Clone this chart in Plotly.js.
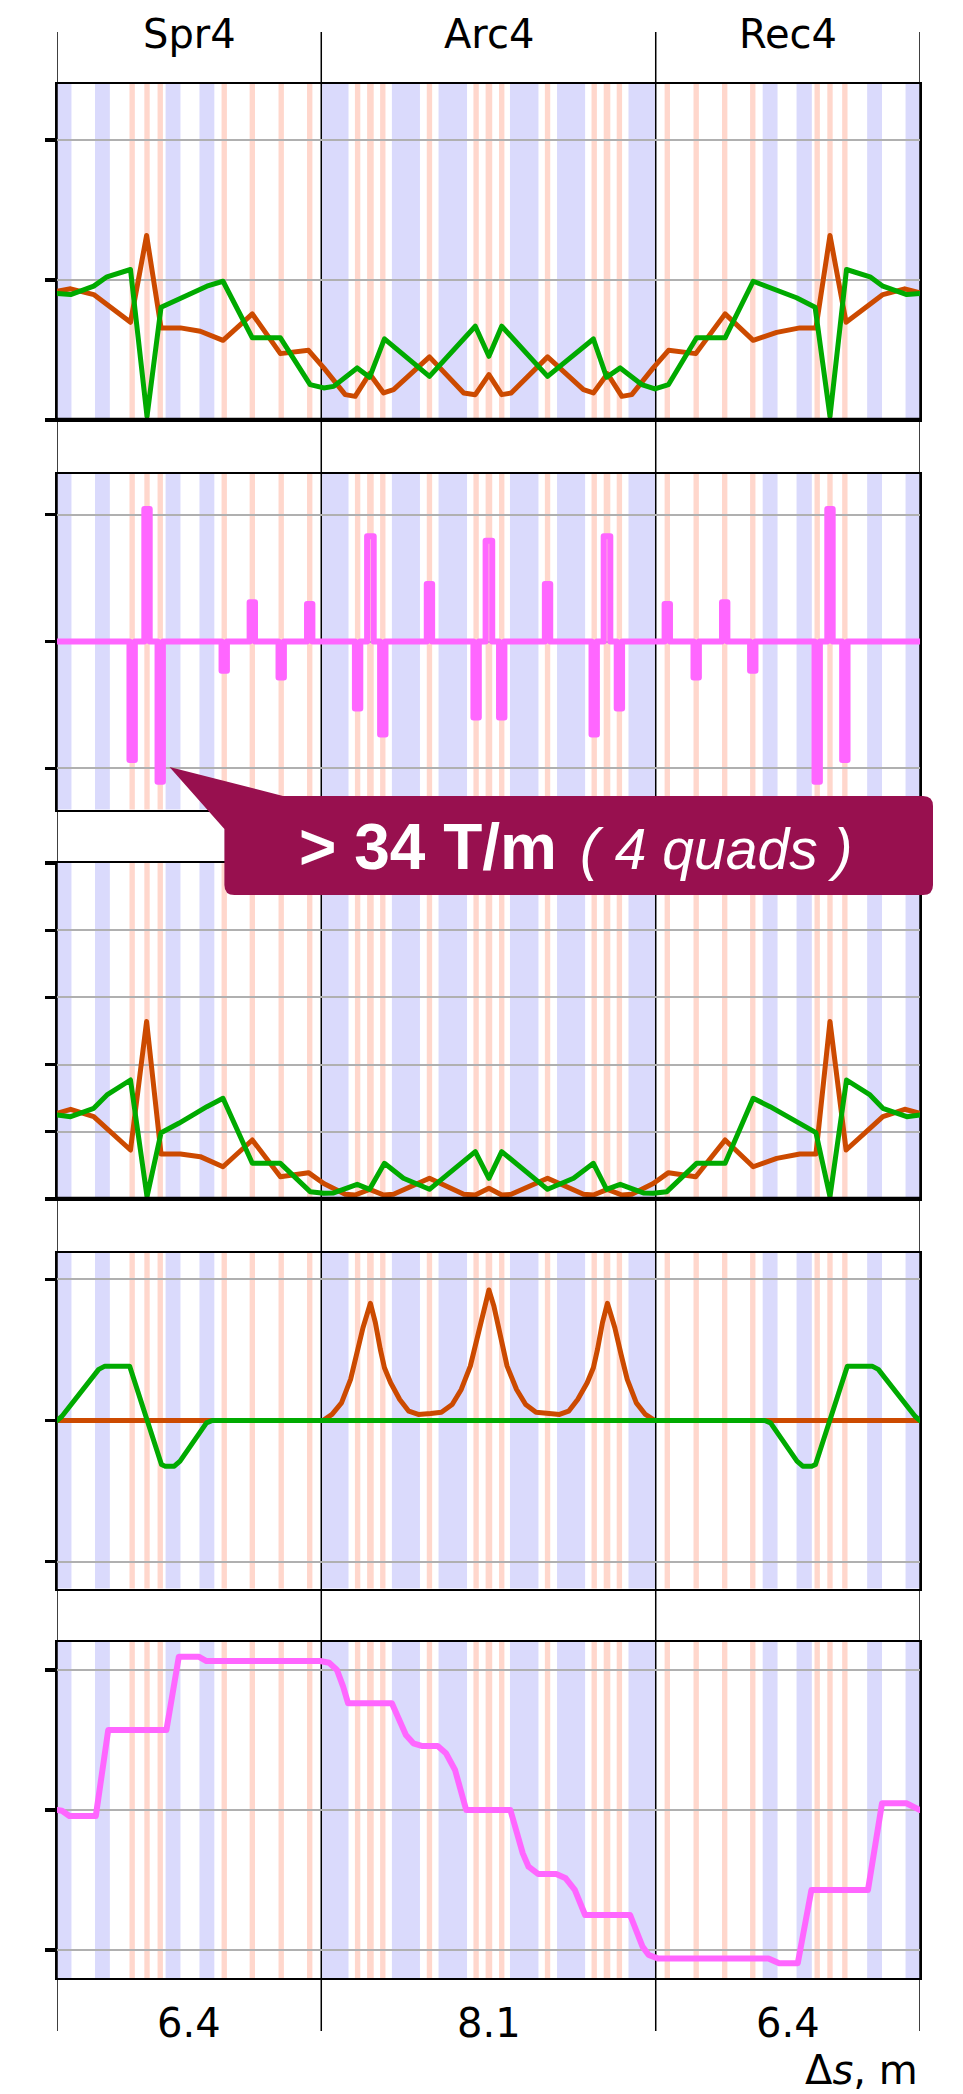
<!DOCTYPE html>
<html>
<head>
<meta charset="utf-8">
<script src="https://cdn.plot.ly/plotly-3.0.1.min.js"></script>
<style>
html,body{margin:0;padding:0;background:#fff;}
.js-line{stroke-linejoin:round;stroke-linecap:round;}
</style>
</head>
<body>
<div id="chart" style="width:963px;height:2094px;"></div>
<script>
// ---------- data ----------
const segNames = ['Spr4', 'Arc4', 'Rec4'];
const segLen = [6.4, 8.1, 6.4];

// dipoles (blue bands), metres
const dipStart = [0, 0.92, 2.63, 3.45, 6.42, 8.11, 9.24, 10.97, 12.11, 13.84, 17.09, 17.91, 19.62, 20.55];
const dipEnd   = [0.35, 1.28, 2.99, 3.81, 7.06, 8.79, 9.93, 11.66, 12.79, 14.48, 17.45, 18.28, 19.98, 20.9];

// quadrupoles (salmon lines), centre, length, gradient (panel 2)
const quadPos  = [1.82, 2.18, 2.50, 4.05, 4.73, 5.43, 6.12, 7.28, 7.59, 7.89, 9.02, 10.15, 10.46, 10.77, 11.88, 13.01, 13.32, 13.62, 14.78, 15.48, 16.17, 16.85, 18.41, 18.72, 19.08];
const quadLen  = [0.13, 0.13, 0.13, 0.13, 0.13, 0.13, 0.13, 0.13, 0.16, 0.13, 0.13, 0.13, 0.16, 0.13, 0.13, 0.13, 0.16, 0.13, 0.13, 0.13, 0.13, 0.13, 0.13, 0.13, 0.13];
const quadGrad = [-0.933, 1.043, -1.104, -0.23, 0.309, -0.283, 0.295, -0.527, 0.828, -0.732, 0.453, -0.598, 0.794, -0.598, 0.453, -0.732, 0.828, -0.527, 0.295, -0.283, 0.309, -0.23, -1.104, 1.043, -0.933];

// panel 1
const s1o = [0, 0.33, 0.89, 1.78, 2.17, 2.52, 2.99, 3.47, 4.02, 4.73, 5.41, 6.09, 6.46, 6.98, 7.22, 7.57, 7.91, 8.15, 9.02, 9.85, 10.13, 10.46, 10.77, 11.0, 11.88, 12.75, 12.99, 13.33, 13.68, 13.92, 14.44, 14.81, 15.47, 16.18, 16.86, 17.43, 17.99, 18.38, 18.72, 19.11, 20.0, 20.53, 20.9];
const p1Orange = [0.92, 0.937, 0.896, 0.698, 1.318, 0.658, 0.658, 0.634, 0.569, 0.758, 0.474, 0.498, 0.372, 0.181, 0.169, 0.331, 0.193, 0.217, 0.451, 0.193, 0.181, 0.324, 0.181, 0.193, 0.451, 0.217, 0.193, 0.331, 0.169, 0.181, 0.372, 0.498, 0.474, 0.758, 0.569, 0.626, 0.658, 0.658, 1.318, 0.698, 0.896, 0.937, 0.908];
const s1g = [0, 0.33, 0.89, 1.21, 1.78, 2.18, 2.52, 2.95, 3.63, 4.02, 4.73, 5.41, 6.13, 6.46, 6.70, 7.27, 7.57, 7.93, 9.02, 10.13, 10.46, 10.77, 11.88, 12.99, 13.31, 13.64, 14.16, 14.48, 14.81, 15.49, 16.18, 16.86, 17.31, 17.91, 18.36, 18.72, 19.12, 19.69, 20.0, 20.58, 20.9];
const p1Green = [0.903, 0.896, 0.956, 1.023, 1.075, 0.026, 0.805, 0.861, 0.956, 0.991, 0.587, 0.587, 0.253, 0.229, 0.24, 0.372, 0.305, 0.579, 0.312, 0.67, 0.455, 0.67, 0.312, 0.579, 0.305, 0.372, 0.253, 0.222, 0.253, 0.587, 0.587, 0.991, 0.944, 0.873, 0.805, 0.026, 1.075, 1.023, 0.956, 0.896, 0.903];

// panel 3
const s3o = [0, 0.33, 0.89, 1.78, 2.17, 2.52, 2.99, 3.47, 4.02, 4.73, 5.41, 6.09, 6.46, 6.98, 7.22, 7.57, 7.91, 8.15, 9.02, 9.85, 10.13, 10.46, 10.77, 11.0, 11.88, 12.75, 12.99, 13.33, 13.68, 13.92, 14.44, 14.81, 15.47, 16.18, 16.86, 17.43, 17.99, 18.38, 18.72, 19.11, 20.0, 20.53, 20.9];
const p3Orange = [1.275, 1.335, 1.225, 0.729, 2.64, 0.67, 0.67, 0.63, 0.48, 0.878, 0.332, 0.392, 0.23, 0.07, 0.06, 0.144, 0.06, 0.07, 0.308, 0.07, 0.06, 0.159, 0.06, 0.07, 0.308, 0.07, 0.06, 0.144, 0.06, 0.07, 0.23, 0.392, 0.332, 0.878, 0.48, 0.605, 0.67, 0.67, 2.64, 0.729, 1.225, 1.335, 1.275];
const s3g = [0, 0.33, 0.89, 1.21, 1.78, 2.18, 2.52, 2.95, 3.63, 4.02, 4.73, 5.41, 6.13, 6.46, 6.70, 7.27, 7.57, 7.93, 8.39, 9.02, 10.13, 10.46, 10.77, 11.88, 12.51, 12.99, 13.31, 13.64, 14.2, 14.44, 14.77, 15.49, 16.18, 16.86, 17.27, 17.95, 18.38, 18.72, 19.12, 19.69, 20.0, 20.58, 20.9];
const p3Green = [1.25, 1.225, 1.35, 1.548, 1.771, 0.035, 0.987, 1.126, 1.374, 1.498, 0.531, 0.531, 0.109, 0.085, 0.09, 0.218, 0.144, 0.531, 0.308, 0.144, 0.704, 0.308, 0.704, 0.144, 0.308, 0.531, 0.144, 0.218, 0.09, 0.085, 0.109, 0.531, 0.531, 1.498, 1.374, 1.126, 0.987, 0.035, 1.771, 1.548, 1.35, 1.225, 1.25];

// panel 4
const s4o = [0, 6.44, 6.66, 6.89, 7.11, 7.26, 7.41, 7.59, 7.71, 7.83, 7.93, 8.08, 8.30, 8.52, 8.75, 9.05, 9.31, 9.57, 9.79, 10.01, 10.21, 10.34, 10.46, 10.58, 10.71, 10.90, 11.13, 11.35, 11.60, 11.87, 12.17, 12.39, 12.61, 12.84, 12.99, 13.09, 13.21, 13.33, 13.51, 13.66, 13.81, 14.03, 14.25, 14.48, 20.9];
const p4Orange = [0, 0, 0.043, 0.125, 0.291, 0.468, 0.657, 0.83, 0.693, 0.504, 0.374, 0.267, 0.149, 0.066, 0.043, 0.05, 0.059, 0.113, 0.22, 0.385, 0.622, 0.811, 0.924, 0.811, 0.622, 0.385, 0.22, 0.113, 0.059, 0.05, 0.043, 0.066, 0.149, 0.267, 0.374, 0.504, 0.693, 0.83, 0.657, 0.468, 0.291, 0.125, 0.043, 0, 0];
const s4g = [0, 0.12, 1.01, 1.16, 1.76, 2.53, 2.62, 2.84, 2.98, 3.62, 3.76, 17.14, 17.28, 17.92, 18.06, 18.28, 18.37, 19.14, 19.74, 19.89, 20.78, 20.9];
const p4Green = [0, 0.03, 0.362, 0.385, 0.385, -0.312, -0.324, -0.324, -0.288, -0.017, 0, 0, -0.017, -0.288, -0.324, -0.324, -0.312, 0.385, 0.385, 0.362, 0.03, 0];

// panel 5
const s5 = [0, 0.12, 0.30, 0.94, 1.24, 2.65, 2.95, 3.43, 3.62, 6.37, 6.59, 6.78, 6.93, 7.05, 8.11, 8.27, 8.45, 8.63, 8.85, 9.22, 9.42, 9.64, 9.79, 9.91, 10.98, 11.13, 11.28, 11.42, 11.65, 12.09, 12.32, 12.54, 12.69, 12.79, 13.88, 14.03, 14.18, 14.33, 14.55, 17.23, 17.49, 17.94, 18.27, 19.64, 19.98, 20.57, 20.9];
const p5Pink = [0, -0.005, -0.043, -0.043, 0.571, 0.571, 1.095, 1.095, 1.064, 1.064, 1.052, 1.0, 0.881, 0.762, 0.762, 0.643, 0.536, 0.476, 0.457, 0.457, 0.405, 0.286, 0.143, 0, 0, -0.167, -0.31, -0.405, -0.457, -0.457, -0.488, -0.571, -0.69, -0.75, -0.75, -0.857, -0.976, -1.036, -1.06, -1.06, -1.095, -1.095, -0.571, -0.571, 0.048, 0.048, 0];

// ---------- styling / layout ----------
const ORANGE = '#cc4a00', GREEN = '#00aa00', PINK = '#ff66ff';
const BLUE = '#dadafc', SALMON = '#ffd7cc';

const bounds = [0];
segLen.forEach(L => bounds.push(+(bounds[bounds.length - 1] + L).toFixed(2)));
const totalLen = bounds[bounds.length - 1];

const ML = 57, MR = 43, MT = 84, MB = 116, W = 963, H = 2094;
const plotH = H - MT - MB, plotW = W - ML - MR;
const panelH = 336, gap = 53.5;
const X = px => (px - ML) / plotW;
const Y = py => (H - MB - py) / plotH;

const yRanges = [[0, 2.4], [-1.323, 1.323], [0, 5], [-1.19, 1.19], [-1.2, 1.2]];
const yTicks = [[0, 1, 2], [-1, 0, 1], [0, 1, 2, 3, 4, 5], [-1, 0, 1], [-1, 0, 1]];

// step profile of quad gradients
const gX = [0], gY = [0];
quadPos.forEach((c, i) => {
  const a = c - quadLen[i] / 2, b = c + quadLen[i] / 2;
  gX.push(a, a, b, b); gY.push(0, quadGrad[i], quadGrad[i], 0);
});
gX.push(totalLen); gY.push(0);

const layout = {
  width: W, height: H,
  margin: {l: ML, r: MR, t: MT, b: MB, pad: 0},
  paper_bgcolor: '#fff', plot_bgcolor: '#fff',
  showlegend: false,
  font: {family: 'DejaVu Sans', color: '#000'},
  shapes: [], annotations: []
};

for (let p = 1; p <= 5; p++) {
  const sfx = p === 1 ? '' : String(p);
  const top = 1 - (p - 1) * (panelH + gap) / plotH;
  const bot = top - panelH / plotH;
  layout['xaxis' + sfx] = {
    domain: [0, 1], anchor: 'y' + sfx, range: [0, totalLen],
    tickmode: 'array', tickvals: bounds, showticklabels: false, ticks: '',
    showgrid: true, gridcolor: '#000', gridwidth: 1.5, zeroline: false,
    showline: true, linecolor: '#000', linewidth: 2, mirror: true, fixedrange: true
  };
  layout['yaxis' + sfx] = {
    domain: [bot, top], anchor: 'x' + sfx, range: yRanges[p - 1],
    tickmode: 'array', tickvals: yTicks[p - 1], showticklabels: false,
    ticks: 'outside', ticklen: 10, tickwidth: 3.3, tickcolor: '#000',
    showgrid: true, gridcolor: '#b0b0b0', gridwidth: 2, zeroline: false,
    showline: true, linecolor: '#000', linewidth: 2, mirror: true, fixedrange: true
  };
  dipStart.forEach((d, i) => layout.shapes.push({
    type: 'rect', xref: 'x' + sfx, yref: 'y' + sfx + ' domain',
    x0: d, x1: dipEnd[i], y0: 0, y1: 1, fillcolor: BLUE, line: {width: 0}, layer: 'below'
  }));
  quadPos.forEach((c, i) => layout.shapes.push({
    type: 'rect', xref: 'x' + sfx, yref: 'y' + sfx + ' domain',
    x0: c - quadLen[i] / 2, x1: c + quadLen[i] / 2, y0: 0, y1: 1, fillcolor: SALMON, line: {width: 0}, layer: 'below'
  }));
}

// column lines through the gaps and margins
bounds.forEach(b => layout.shapes.push({
  type: 'line', xref: 'x', yref: 'paper', x0: b, x1: b, y0: Y(2031), y1: Y(32),
  line: {color: '#000', width: 1.5}, layer: 'below'
}));
// thick zero lines on panels 1 and 3
['', '3'].forEach(s => layout.shapes.push({
  type: 'line', xref: 'x' + s + ' domain', yref: 'y' + s, x0: 0, x1: 1, y0: 0, y1: 0,
  line: {color: '#000', width: 4.5}, layer: 'above'
}));

// callout
const pt = (px, py) => X(px).toFixed(5) + ',' + Y(py).toFixed(5);
const calloutPath = 'M' + pt(169.5, 767) + ' L' + pt(283, 796) + ' L' + pt(923, 796) +
  ' Q' + pt(933, 796) + ' ' + pt(933, 806) + ' L' + pt(933, 885) +
  ' Q' + pt(933, 895) + ' ' + pt(923, 895) + ' L' + pt(234.4, 895) +
  ' Q' + pt(224.4, 895) + ' ' + pt(224.4, 885) + ' L' + pt(224.4, 829) + ' Z';
layout.shapes.push({type: 'path', xref: 'paper', yref: 'paper', path: calloutPath,
  fillcolor: '#98104f', line: {width: 0}, layer: 'above'});

// labels
segNames.forEach((n, i) => layout.annotations.push({
  x: (bounds[i] + bounds[i + 1]) / 2, xref: 'x', y: Y(34.5), yref: 'paper',
  text: n, showarrow: false, xanchor: 'center', yanchor: 'middle',
  font: {family: 'DejaVu Sans', size: 40, color: '#000'}
}));
segLen.forEach((L, i) => layout.annotations.push({
  x: (bounds[i] + bounds[i + 1]) / 2, xref: 'x', y: Y(2023), yref: 'paper',
  text: L.toFixed(1), showarrow: false, xanchor: 'center', yanchor: 'middle',
  font: {family: 'DejaVu Sans', size: 40, color: '#000'}
}));
layout.annotations.push({
  x: 1, xref: 'paper', y: Y(2070), yref: 'paper', text: 'Δ<i>s</i>, m',
  showarrow: false, xanchor: 'right', yanchor: 'middle',
  font: {family: 'DejaVu Sans', size: 40, color: '#000'}
});
layout.annotations.push({
  x: X(299), xref: 'paper', y: Y(846.8), yref: 'paper', text: '<b>&gt; 34 T/m</b>',
  showarrow: false, xanchor: 'left', yanchor: 'middle', borderpad: 0, borderwidth: 0,
  font: {family: 'Liberation Sans', size: 64, color: '#fff'}
});
layout.annotations.push({
  x: X(580), xref: 'paper', y: Y(849.2), yref: 'paper', text: '<i>( 4 quads )</i>',
  showarrow: false, xanchor: 'left', yanchor: 'middle', borderpad: 0, borderwidth: 0,
  font: {family: 'Liberation Sans', size: 57, color: '#fff'}
});

const ln = (x, y, color, w, xa, ya) => ({
  x: x, y: y, xaxis: xa, yaxis: ya, type: 'scatter', mode: 'lines',
  line: {color: color, width: w}, hoverinfo: 'skip', showlegend: false
});

const data = [
  ln(s1o, p1Orange, ORANGE, 5, 'x', 'y'),
  ln(s1g, p1Green, GREEN, 5, 'x', 'y'),
  ln(gX, gY, PINK, 6, 'x2', 'y2'),
  ln(s3o, p3Orange, ORANGE, 5, 'x3', 'y3'),
  ln(s3g, p3Green, GREEN, 5, 'x3', 'y3'),
  ln(s4o, p4Orange, ORANGE, 5, 'x4', 'y4'),
  ln(s4g, p4Green, GREEN, 5, 'x4', 'y4'),
  ln(s5, p5Pink, PINK, 6, 'x5', 'y5')
];

Plotly.newPlot('chart', data, layout, {displayModeBar: false, staticPlot: true});
</script>
</body>
</html>
